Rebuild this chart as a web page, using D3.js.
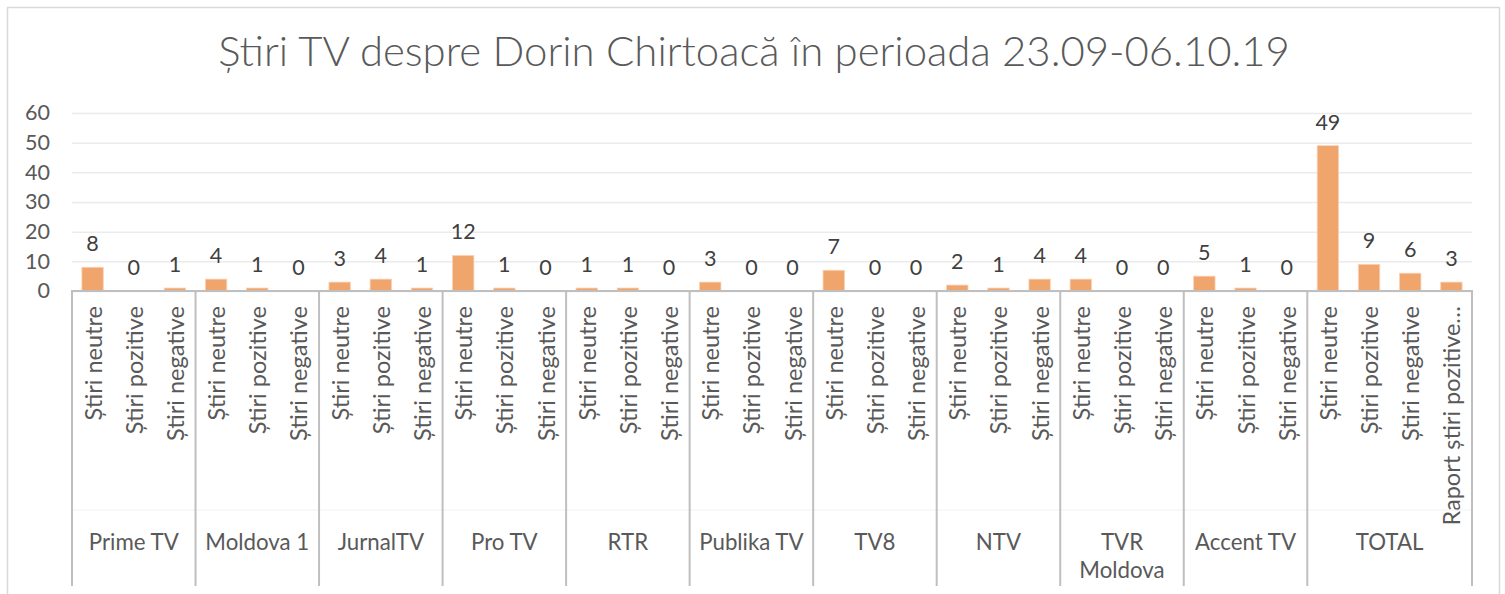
<!doctype html>
<html lang="ro">
  <head>
    <meta charset="utf-8">
    <script src="https://cdn.jsdelivr.net/npm/d3@7"></script>
    <style>
      body {margin:0; background:#fff}
      svg {display:block}
      text {font-family: Lato, 'Noto Sans', sans-serif; fill:#595959}
      .val {fill:#404040}
    </style>
    <title>Știri TV despre Dorin Chirtoacă</title>
  </head>
  <body>
    <script>
      // data
      let channels = ["Prime TV","Moldova 1","JurnalTV","Pro TV","RTR","Publika TV","TV8","NTV","TVR Moldova","Accent TV","TOTAL"];
      let kinds = ["Știri neutre","Știri pozitive","Știri negative"];
      let totalKinds = ["Știri neutre","Știri pozitive","Știri negative","Raport știri pozitive…"];
      let neutre   = [8,4,3,12,1,3,7,2,4,5,49];
      let pozitive = [0,1,4,1,1,0,0,1,0,1,9];
      let negative = [1,0,1,0,0,0,0,4,0,0,6];
      let raport = 3;
      let yTicks = [0,10,20,30,40,50,60];

      // flatten into one list of categories
      let rows = [];
      channels.forEach((ch,i)=>{
        let labs = ch=="TOTAL" ? totalKinds : kinds;
        let vals = [neutre[i], pozitive[i], negative[i], raport];
        labs.forEach((k,j)=>rows.push({id: ch+"|"+k, group: ch, label: k, value: vals[j]}));
      });

      let W = 1505, H = 594;
      let plotL = 72, plotR = 1472, plotT = 113, base = 291;

      let svg = d3.select("body").append("svg")
        .attr("width", W).attr("height", H);

      // font size that gives a string a wanted width
      function fit(str, want, weight){
        let t = svg.append("text").attr("font-size",20).attr("font-weight",weight||400).text(str);
        let w = t.node().getComputedTextLength();
        t.remove();
        return 20*want/w;
      }
      let fsCat = fit("Știri negative",135);
      let fsGrp = fit("Prime TV",90);
      let fsNum = fit("60",25);

      // outer chart border
      svg.append("rect")
        .attr("x",7.5).attr("y",7.5).attr("width",1492).attr("height",620)
        .attr("fill","none").attr("stroke","#d9d9d9").attr("stroke-width",1.5);

      let x = d3.scaleBand()
        .domain(rows.map(d=>d.id))
        .range([plotL,plotR])
        .paddingInner(0.48)
        .paddingOuter(0.24);

      let y = d3.scaleLinear().domain([0,60]).range([base,plotT]);

      // title
      let tStr = "Știri TV despre Dorin Chirtoacă în perioada 23.09-06.10.19";
      svg.append("text")
        .attr("x",754).attr("y",66)
        .attr("text-anchor","middle")
        .attr("font-weight",300)
        .attr("font-size",fit(tStr,1072,300))
        .text(tStr);

      // y axis with gridlines
      let yAxis = d3.axisLeft(y).tickValues(yTicks).tickSize(-(plotR-plotL)).tickPadding(22);
      let gy = svg.append("g").attr("transform","translate("+plotL+",0)").call(yAxis);
      gy.select(".domain").remove();
      gy.selectAll(".tick line").attr("stroke","#ebebeb").attr("stroke-width",1.5);
      gy.selectAll(".tick text").attr("font-size",fsNum).attr("fill","#595959").attr("font-family",null);

      // bars
      svg.selectAll("rect.bar")
        .data(rows.filter(d=>d.value>0))
        .enter().append("rect")
        .attr("class","bar")
        .attr("x",d=>x(d.id))
        .attr("width",x.bandwidth())
        .attr("y",d=>y(d.value))
        .attr("height",d=>base-y(d.value))
        .attr("fill","#f0a56d")
        .attr("stroke","#fad3b6")
        .attr("stroke-width",0.8);

      // value labels
      svg.selectAll("text.val")
        .data(rows)
        .enter().append("text")
        .attr("class","val")
        .attr("x",d=>x(d.id)+x.bandwidth()/2)
        .attr("y",d=>y(d.value)-16)
        .attr("text-anchor","middle")
        .attr("font-size",fsNum)
        .text(d=>d.value);

      // category labels (rotated)
      svg.selectAll("text.cat")
        .data(rows)
        .enter().append("text")
        .attr("class","cat")
        .attr("transform",d=>"translate("+(x(d.id)+x.bandwidth()/2)+",306) rotate(-90)")
        .attr("text-anchor","end")
        .attr("dominant-baseline","central")
        .attr("font-size",fsCat)
        .text(d=>d.label);

      // x axis: baseline and group dividers
      let half = (x.step()-x.bandwidth())/2;
      let bounds = [];
      channels.forEach(ch=>{
        let ids = rows.filter(r=>r.group==ch).map(r=>r.id);
        bounds.push({group: ch, x0: x(ids[0])-half, x1: x(ids[ids.length-1])+x.bandwidth()+half});
      });
      let divs = [bounds[0].x0].concat(bounds.map(b=>b.x1));

      svg.append("line")
        .attr("x1",plotL).attr("x2",plotR).attr("y1",510).attr("y2",510)
        .attr("stroke","#f2f2f2").attr("stroke-width",1);

      svg.selectAll("line.div")
        .data(divs)
        .enter().append("line")
        .attr("class","div")
        .attr("x1",d=>d).attr("x2",d=>d)
        .attr("y1",base).attr("y2",586)
        .attr("stroke","#bfbfbf").attr("stroke-width",2);

      svg.append("line")
        .attr("x1",plotL-1).attr("x2",plotR+1).attr("y1",base).attr("y2",base)
        .attr("stroke","#bfbfbf").attr("stroke-width",2);

      // group labels
      let gl = svg.selectAll("text.grp")
        .data(bounds)
        .enter().append("text")
        .attr("class","grp")
        .attr("text-anchor","middle")
        .attr("font-size",fsGrp);
      gl.each(function(d){
        let t = d3.select(this);
        let cx = (d.x0+d.x1)/2;
        let parts = d.group=="TVR Moldova" ? ["TVR","Moldova"] : [d.group];
        parts.forEach((p,i)=>{
          t.append("tspan").attr("x",cx).attr("y",550+i*28).text(p);
        });
      });
    </script>
  </body>
</html>
